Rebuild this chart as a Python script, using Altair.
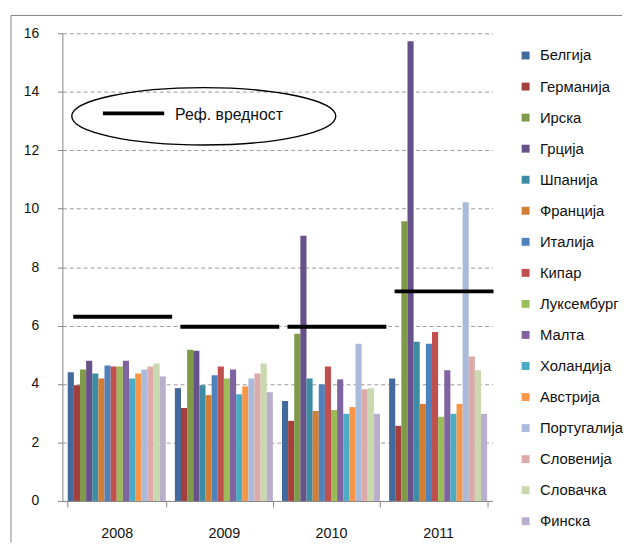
import altair as alt
import pandas as pd

years = ["2008", "2009", "2010", "2011"]
countries = ["Белгија", "Германија", "Ирска", "Грција", "Шпанија", "Франција",
             "Италија", "Кипар", "Луксембург", "Малта", "Холандија", "Австрија",
             "Португалија", "Словенија", "Словачка", "Финска"]
colors = ["#426a9c", "#a3403d", "#7f9a48", "#67518a", "#3d8ca3", "#d27c34",
          "#4f81bd", "#c0504d", "#9bbb59", "#8064a2", "#4bacc6", "#f79646",
          "#aabada", "#dcaaa9", "#c9d8ae", "#b9afcc"]

v2008 = [4.40, 3.96, 4.50, 4.80, 4.36, 4.19, 4.63, 4.60, 4.60, 4.80, 4.19, 4.36, 4.50, 4.60, 4.70, 4.26]
v2009 = [3.86, 3.18, 5.17, 5.14, 3.96, 3.62, 4.30, 4.60, 4.19, 4.50, 3.65, 3.92, 4.19, 4.36, 4.70, 3.72]
v2010 = [3.42, 2.74, 5.72, 9.07, 4.19, 3.08, 3.99, 4.60, 3.11, 4.16, 2.98, 3.21, 5.38, 3.82, 3.86, 2.98]
v2011 = [4.19, 2.57, 9.57, 15.73, 5.45, 3.32, 5.38, 5.78, 2.88, 4.47, 2.98, 3.32, 10.22, 4.94, 4.47, 2.98]

ref_values = [6.30, 5.96, 5.96, 7.17]
ref_label = "Реф. вредност"

rows = []
for yr, vals in zip(years, [v2008, v2009, v2010, v2011]):
    for c, v in zip(countries, vals):
        rows.append({"year": yr, "country": c, "value": v})
df = pd.DataFrame(rows)
ref_df = pd.DataFrame({"year": years, "ref": ref_values})
one = pd.DataFrame({"a": [0]})

FONT = "Liberation Sans"
GRAY = "#868686"
y_scale = alt.Scale(domain=[0, 16], nice=False)
x_enc = alt.X("year:N", sort=years,
              scale=alt.Scale(paddingInner=0.085, paddingOuter=0.05),
              axis=alt.Axis(title=None, labelAngle=0, tickBand="extent", tickSize=6,
                            labelPadding=20, domainColor=GRAY, tickColor=GRAY, grid=False,
                            labelFontSize=14.5))

bars = alt.Chart(df).mark_bar().encode(
    x=x_enc,
    xOffset=alt.XOffset("country:N", sort=countries,
                        scale=alt.Scale(paddingInner=0, paddingOuter=0)),
    y=alt.Y("value:Q", scale=y_scale,
            axis=alt.Axis(title=None, values=list(range(0, 17, 2)), tickSize=5,
                          labelPadding=19, domainColor=GRAY, tickColor=GRAY,
                          gridColor="#9a9a9a", gridDash=[4, 3])),
    color=alt.Color("country:N", sort=countries,
                    scale=alt.Scale(domain=countries, range=colors),
                    legend=alt.Legend(title=None, orient="none", legendX=461, legendY=15,
                                      symbolType="square", symbolSize=64,
                                      symbolStrokeWidth=0, labelFontSize=15,
                                      labelFont=FONT, labelFontWeight="normal",
                                      rowPadding=15.4, labelOffset=7,
                                      labelLimit=200, labelColor="#111")),
)

refs = alt.Chart(ref_df).mark_tick(color="black", thickness=4, size=100, xOffset=6,
                                   opacity=1).encode(
    x=alt.X("year:N", sort=years),
    y=alt.Y("ref:Q", scale=y_scale),
)

ELLIPSE = ("M -1 0 C -1 -0.12 -0.552 -0.217 0 -0.217 C 0.552 -0.217 1 -0.12 1 0 "
           "C 1 0.12 0.552 0.217 0 0.217 C -0.552 0.217 -1 0.12 -1 0 Z")
ellipse = alt.Chart(one).mark_point(shape=ELLIPSE, filled=False, color="black",
                                    strokeWidth=1.4, size=71289, opacity=1).encode(
    x=alt.value(143), y=alt.datum(13.16))
key_line = alt.Chart(one).mark_rule(color="black", strokeWidth=4).encode(
    x=alt.value(41), x2=alt.value(103), y=alt.datum(13.26))
key_text = alt.Chart(one).mark_text(align="left", baseline="middle", fontSize=16,
                                    font=FONT, color="#111", text=ref_label).encode(
    x=alt.value(114), y=alt.datum(13.2))

frame_left = alt.Chart(one).mark_rule(color=GRAY, strokeWidth=1).encode(
    x=alt.value(-52), y=alt.value(-18), y2=alt.value(515))
frame_top = alt.Chart(one).mark_rule(color=GRAY, strokeWidth=1).encode(
    x=alt.value(-52), x2=alt.value(566), y=alt.value(-18))

chart = alt.layer(bars, refs, ellipse, key_line, key_text, frame_left, frame_top).properties(
    width=435, height=473,
    padding={"left": 2, "top": 3.5, "right": 0, "bottom": 0},
).configure_view(stroke=None).configure_axis(
    labelFont=FONT, labelFontSize=14, labelColor="#111", labelFontWeight="normal"
)

chart.save("out.html", embed_options={"renderer": "svg", "actions": False})
